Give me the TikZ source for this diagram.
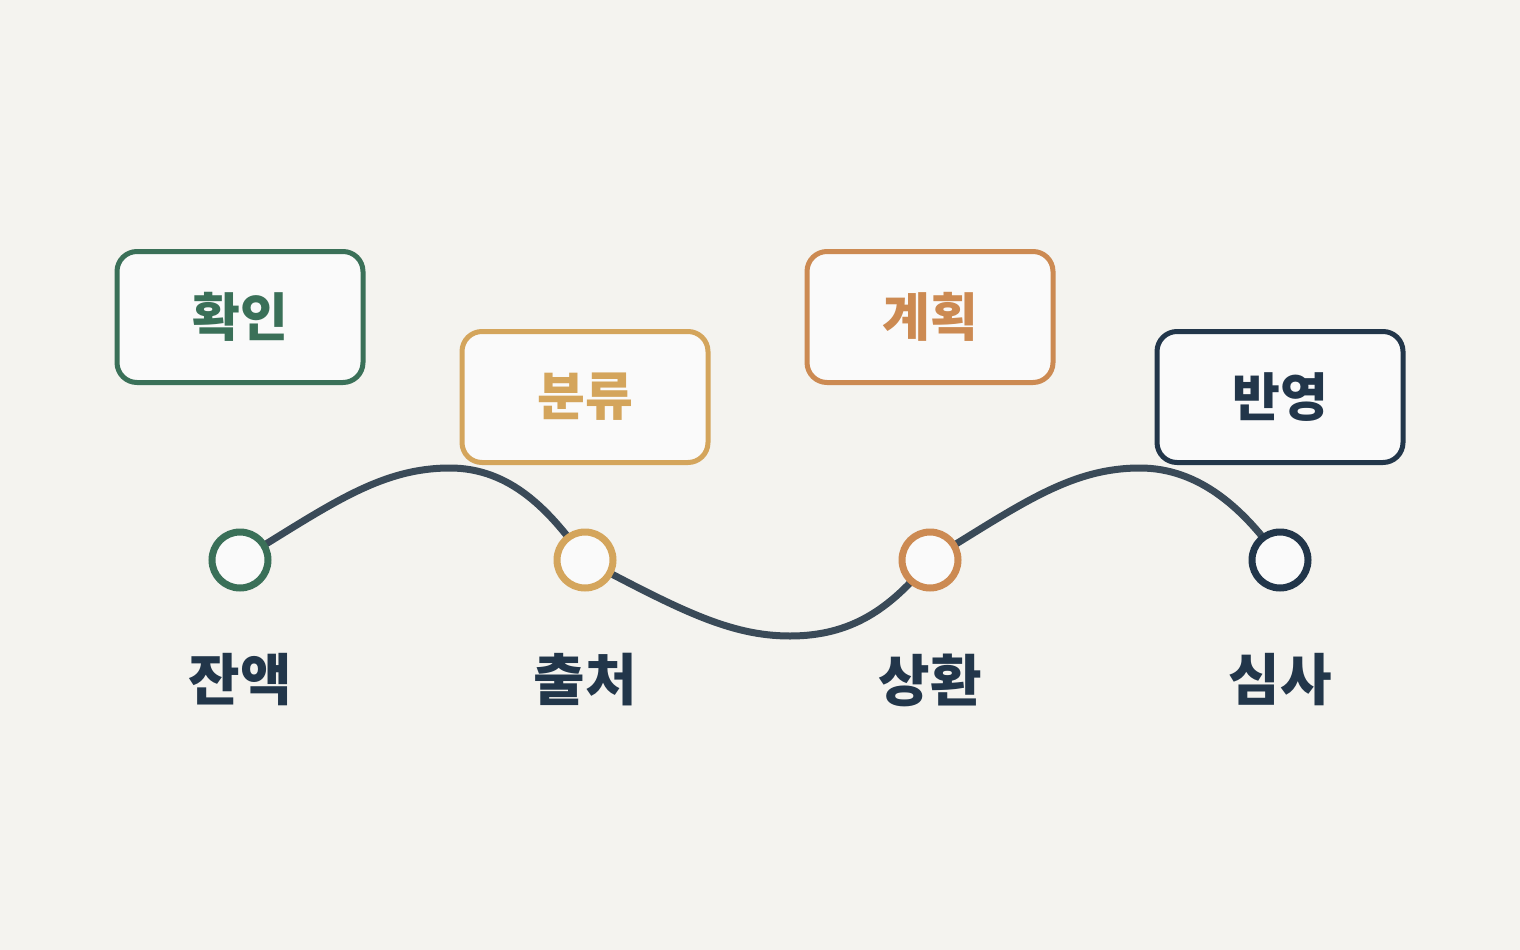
\documentclass[tikz,border=0pt]{standalone}
\usepackage{fontspec}
\newfontfamily\kr{Noto Sans CJK KR}
\definecolor{bg}{HTML}{F4F3EF}
\definecolor{cgreen}{HTML}{3A7058}
\definecolor{cgold}{HTML}{D4A55C}
\definecolor{corange}{HTML}{CC8A52}
\definecolor{cnavy}{HTML}{22364A}
\definecolor{cline}{HTML}{3A4A58}
\definecolor{boxfill}{HTML}{FAFAFA}
\tikzset{
  dot/.style={circle,minimum size=56pt,inner sep=0pt,line width=7pt,fill=boxfill},
  box/.style={rounded corners=20pt,minimum width=246pt,minimum height=131pt,line width=5pt,fill=boxfill,font=\kr\bfseries\fontsize{52}{60}\selectfont},
  lab/.style={font=\kr\bfseries\fontsize{56}{64}\selectfont,text=cnavy},
  link/.style={line width=7pt,cline,line cap=round}
}
\begin{document}
\begin{tikzpicture}[x=1pt,y=-1pt]
\fill[bg] (0,0) rectangle (1520,950);
\useasboundingbox (0,0) rectangle (1520,950);
\coordinate (c1) at (240,560);
\coordinate (c2) at (585,560);
\coordinate (c3) at (930,560);
\coordinate (c4) at (1280,560);
\coordinate (p1) at (450,468);
\coordinate (t1) at (790,636);
\coordinate (p2) at (1140,468);
\draw[link] (c1) .. controls (330,505) and (380,468) .. (p1)
  .. controls (510,468) and (550,510) .. (c2)
  .. controls (680,610) and (730,636) .. (t1)
  .. controls (850,636) and (890,610) .. (c3)
  .. controls (1020,505) and (1070,468) .. (p2)
  .. controls (1200,468) and (1245,510) .. (c4);
\node[dot,draw=cgreen] (d1) at (c1) {};
\node[dot,draw=cgold] (d2) at (c2) {};
\node[dot,draw=corange] (d3) at (c3) {};
\node[dot,draw=cnavy] (d4) at (c4) {};
\node[lab] (l1) at (240,680) {잔액};
\node[lab] (l2) at (585,680) {출처};
\node[lab] (l3) at (930,680) {상환};
\node[lab] (l4) at (1280,680) {심사};
\node[box,draw=cgreen,text=cgreen] (b1) at (240,317) {확인};
\node[box,draw=cgold,text=cgold] (b2) at (585,397) {분류};
\node[box,draw=corange,text=corange] (b3) at (930,317) {계획};
\node[box,draw=cnavy,text=cnavy] (b4) at (1280,397) {반영};
\end{tikzpicture}
\end{document}
